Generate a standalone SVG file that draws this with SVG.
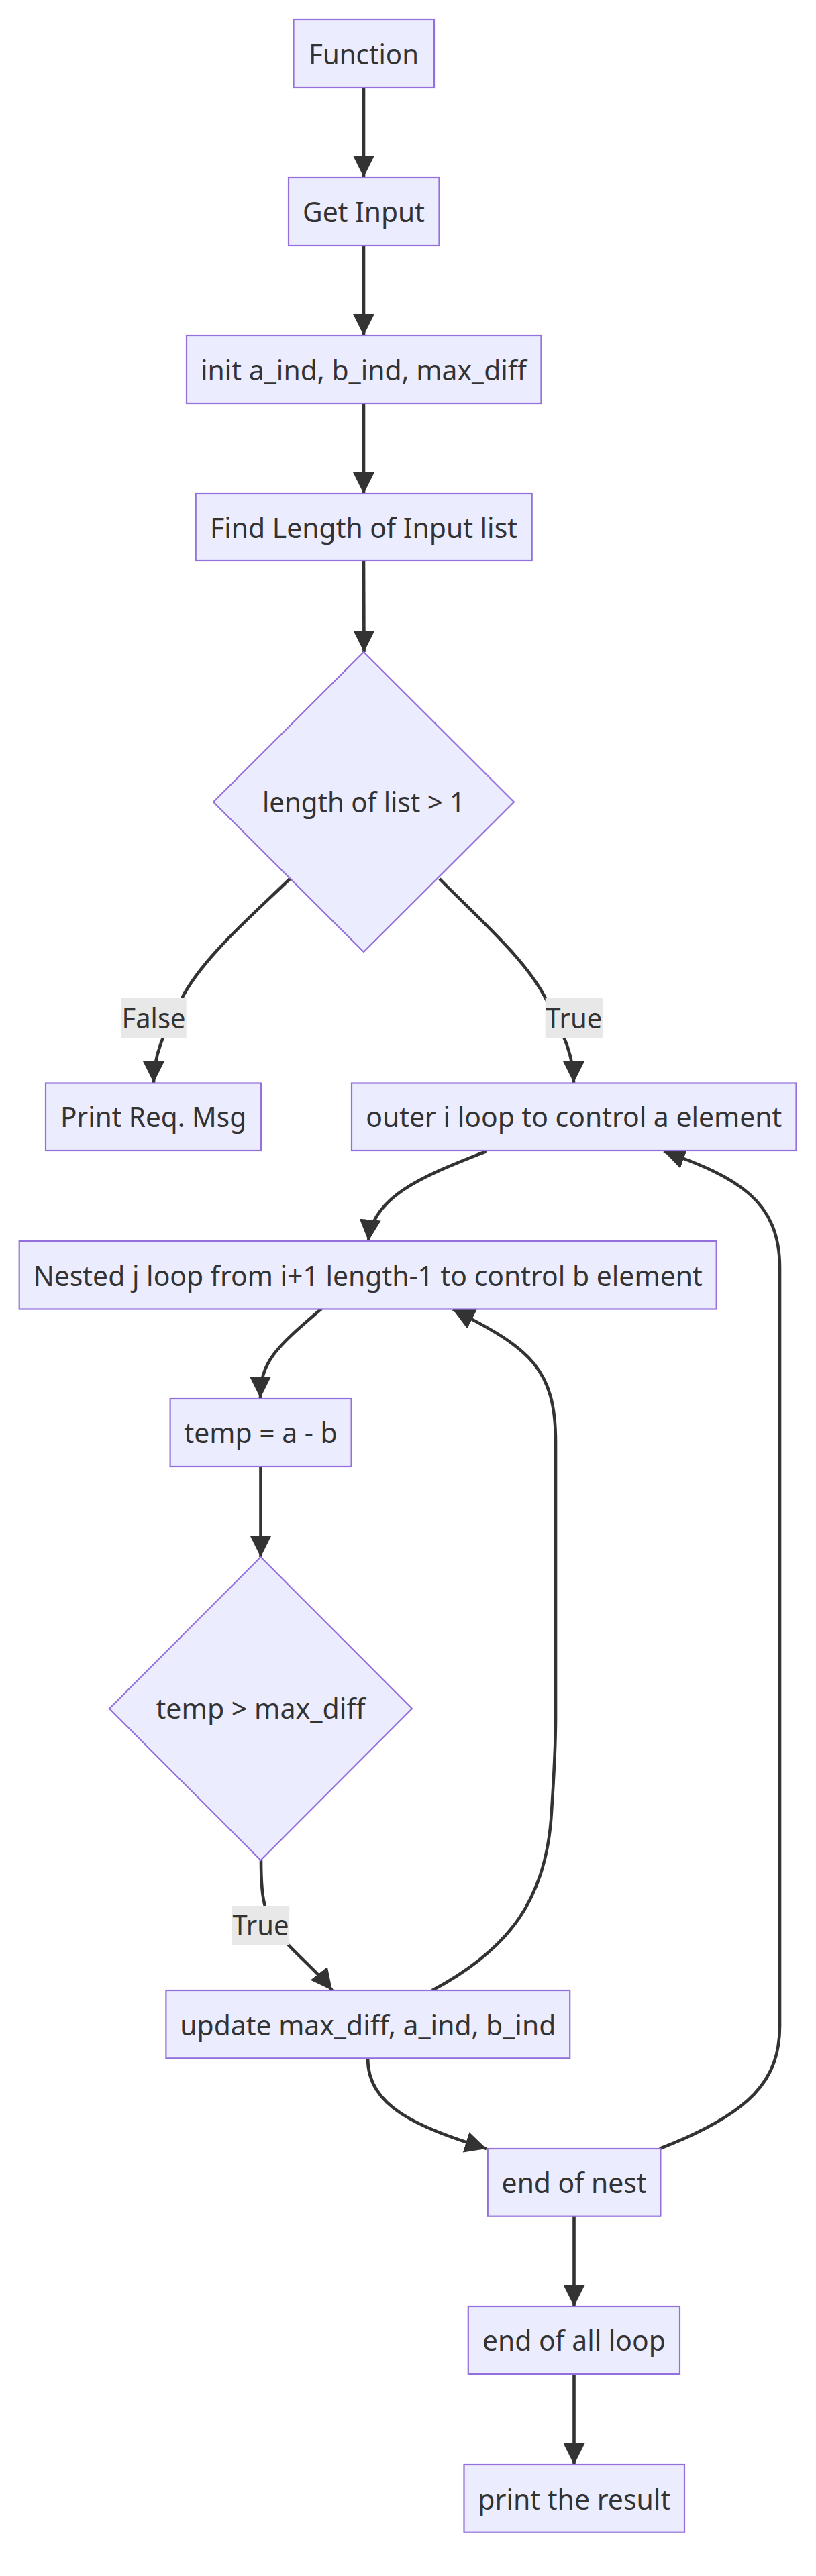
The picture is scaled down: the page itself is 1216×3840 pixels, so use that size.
<svg xmlns="http://www.w3.org/2000/svg" width="1216" height="3840" viewBox="0 0 1216 3840">
<style>
.n rect,.n polygon{fill:#ECECFF;stroke:#9370DB;stroke-width:2.2}
text{font-family:"Noto Sans","Open Sans",sans-serif;font-size:41px;fill:#333;text-anchor:middle}
.e path{fill:none;stroke:#333;stroke-width:4.6;marker-end:url(#ah)}
.lb{fill:#e8e8e8}
</style>
<defs>
<marker id="ah" viewBox="0 0 10 10" refX="10" refY="5" markerUnits="userSpaceOnUse" markerWidth="32" markerHeight="32" orient="auto">
<path d="M0,0 L10,5 L0,10 z" fill="#333"/>
</marker>
</defs>
<rect width="1216" height="3840" fill="#fff"/>
<g id="edges" class="e">
<path d="M542,130 L542,264"/>
<path d="M542,366 L542,500"/>
<path d="M542,601 L542,736"/>
<path d="M542,836 L542.5,972"/>
<path d="M432,1310 C372,1368 300,1430 270,1490 C245,1540 229,1570 229,1614"/>
<path d="M655,1310 C712,1368 784,1430 814,1490 C838,1540 855,1570 855,1614"/>
<path d="M725,1716 C640,1750 555,1780 549,1850"/>
<path d="M479,1951 C410,2010 388,2030 388,2084"/>
<path d="M388.5,2186 L388.5,2321"/>
<path d="M389,2773 C389,2820 392,2850 410,2875 C430,2905 470,2935 495,2967"/>
<path d="M644,2967 C760,2905 815,2830 822,2700 C826,2640 828,2600 828,2560 L828,2150 C828,2040 790,2010 675,1952"/>
<path d="M548,3068 C548,3140 620,3170 725,3203"/>
<path d="M983,3203 C1120,3150 1162,3100 1162,3020 L1162,1890 C1162,1790 1100,1755 989,1716"/>
<path d="M855.5,3304 L855.5,3438"/>
<path d="M855.5,3539 L855.5,3674"/>
</g>
<g id="edge-labels">
<rect class="lb" x="180.7" y="1488" width="97" height="59"/>
<text x="229" y="1533" textLength="95" lengthAdjust="spacingAndGlyphs">False</text>
<rect class="lb" x="812.7" y="1488" width="85.3" height="59"/>
<text x="855.3" y="1533" textLength="84" lengthAdjust="spacingAndGlyphs">True</text>
<rect class="lb" x="345.9" y="2841" width="85.3" height="59"/>
<text x="388.5" y="2885" textLength="84" lengthAdjust="spacingAndGlyphs">True</text>
</g>
<g id="n-function" class="n"><rect x="437.5" y="29" width="209.5" height="101"/><text x="542" y="96" textLength="164" lengthAdjust="spacingAndGlyphs">Function</text></g>
<g id="n-getinput" class="n"><rect x="430" y="265" width="224.5" height="101"/><text x="542" y="331" textLength="182" lengthAdjust="spacingAndGlyphs">Get Input</text></g>
<g id="n-init" class="n"><rect x="278" y="500" width="528.5" height="101"/><text x="542" y="567" textLength="486" lengthAdjust="spacingAndGlyphs">init a_ind, b_ind, max_diff</text></g>
<g id="n-findlen" class="n"><rect x="291.7" y="736" width="501" height="100"/><text x="542" y="802" textLength="458" lengthAdjust="spacingAndGlyphs">Find Length of Input list</text></g>
<g id="n-cond1" class="n"><polygon points="542,972 766,1195.5 542,1419 318,1195.5"/><text x="542" y="1211" textLength="302" lengthAdjust="spacingAndGlyphs">length of list &gt; 1</text></g>
<g id="n-printreq" class="n"><rect x="68" y="1614.5" width="321" height="100.5"/><text x="228.6" y="1680" textLength="277" lengthAdjust="spacingAndGlyphs">Print Req. Msg</text></g>
<g id="n-outer" class="n"><rect x="524" y="1614.5" width="662.5" height="100.5"/><text x="855.3" y="1680" textLength="620" lengthAdjust="spacingAndGlyphs">outer i loop to control a element</text></g>
<g id="n-nested" class="n"><rect x="28.7" y="1850" width="1039" height="101.5"/><text x="548.2" y="1917" textLength="997" lengthAdjust="spacingAndGlyphs">Nested j loop from i+1 length-1 to control b element</text></g>
<g id="n-temp" class="n"><rect x="253.6" y="2085" width="270" height="101"/><text x="388.6" y="2151" textLength="228" lengthAdjust="spacingAndGlyphs">temp = a - b</text></g>
<g id="n-cond2" class="n"><polygon points="388.5,2321 614,2547 388.5,2773 163,2547"/><text x="388.5" y="2562" textLength="312" lengthAdjust="spacingAndGlyphs">temp &gt; max_diff</text></g>
<g id="n-update" class="n"><rect x="247.4" y="2967" width="601.8" height="101.3"/><text x="548.3" y="3034" textLength="560" lengthAdjust="spacingAndGlyphs">update max_diff, a_ind, b_ind</text></g>
<g id="n-endnest" class="n"><rect x="726.8" y="3203" width="257.6" height="100.7"/><text x="855.6" y="3269" textLength="216" lengthAdjust="spacingAndGlyphs">end of nest</text></g>
<g id="n-endall" class="n"><rect x="697.8" y="3438" width="315.2" height="101"/><text x="855.4" y="3504" textLength="273" lengthAdjust="spacingAndGlyphs">end of all loop</text></g>
<g id="n-print" class="n"><rect x="691.5" y="3674" width="328.5" height="100.7"/><text x="855.75" y="3741" textLength="287" lengthAdjust="spacingAndGlyphs">print the result</text></g>
</svg>
